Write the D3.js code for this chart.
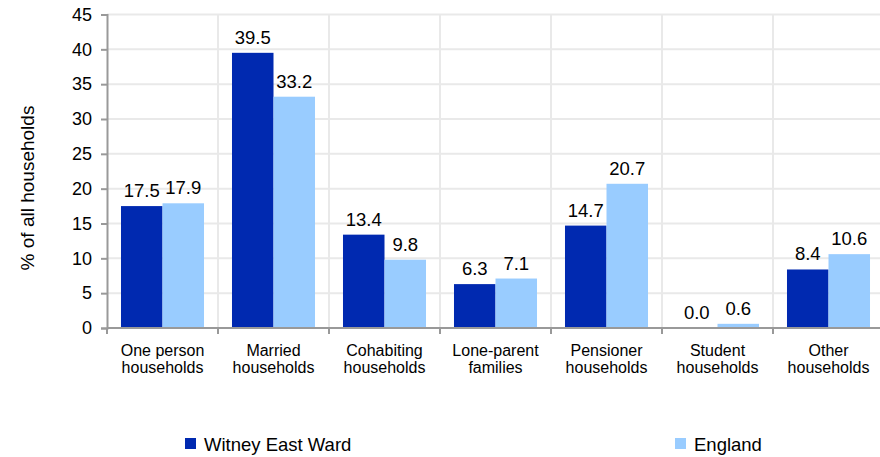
<!DOCTYPE html>
<html><head><meta charset="utf-8">
<script src="https://cdn.jsdelivr.net/npm/d3@7"></script>
<style>body{margin:0;background:#fff}svg{display:block;font-family:"Liberation Sans",Arial,sans-serif}</style>
</head><body>
<script>
const categories = [["One person","households"],["Married","households"],["Cohabiting","households"],["Lone-parent","families"],["Pensioner","households"],["Student","households"],["Other","households"]];
const seriesNames = ["Witney East Ward","England"];
const witney = [17.5,39.5,13.4,6.3,14.7,0.0,8.4];
const england = [17.9,33.2,9.8,7.1,20.7,0.6,10.6];
const yTicks = [0,5,10,15,20,25,30,35,40,45];
const colors = ["#0029b0","#99ccff"];

(function(){
const W=880,H=457;
const svg=d3.select("body").append("svg").attr("width",W).attr("height",H);
const left=107,right=884,pTop=14.5,bottom=328;
const idx=d3.range(categories.length);
const x=d3.scaleBand().domain(idx).range([left,right]).paddingInner(0).paddingOuter(0);
const x1=d3.scaleBand().domain([0,1]).range([0,x.bandwidth()]).paddingInner(0).paddingOuter(0.337);
const y=d3.scaleLinear().domain([0,45]).range([bottom,pTop]);

// grid
svg.append("g").selectAll("line").data(yTicks.filter(d=>d>0)).join("line")
 .attr("x1",left).attr("x2",right).attr("y1",d=>y(d)).attr("y2",d=>y(d))
 .attr("stroke","#e9e9e9").attr("stroke-width",2);
svg.append("g").selectAll("line").data(idx.slice(1)).join("line")
 .attr("x1",d=>x(d)).attr("x2",d=>x(d)).attr("y1",pTop).attr("y2",bottom)
 .attr("stroke","#e9e9e9").attr("stroke-width",2);

// bars
const data=[witney,england];
const g=svg.append("g");
data.forEach((vals,s)=>{
 g.append("g").selectAll("rect").data(idx).join("rect")
  .attr("x",i=>x(i)+x1(s)).attr("width",x1.bandwidth())
  .attr("y",i=>y(vals[i])).attr("height",i=>bottom-y(vals[i]))
  .attr("fill",colors[s]);
 g.append("g").selectAll("text").data(idx).join("text")
  .attr("x",i=>x(i)+x1(s)+x1.bandwidth()/2).attr("y",i=>y(vals[i])-9)
  .attr("text-anchor","middle").attr("font-size",18.5).attr("fill","#000")
  .text(i=>vals[i].toFixed(1));
});

// y axis
const ya=svg.append("g").attr("transform",`translate(${left},0)`)
 .call(d3.axisLeft(y).tickValues(yTicks).tickSize(6).tickPadding(9));
ya.select(".domain").attr("stroke","#999").attr("stroke-width",2);
ya.selectAll(".tick line").attr("stroke","#999").attr("stroke-width",2);
ya.selectAll(".tick text").attr("font-size",18).attr("font-family","Liberation Sans, Arial, sans-serif").attr("fill","#000");

// x axis
svg.append("line").attr("x1",left).attr("x2",right).attr("y1",bottom).attr("y2",bottom).attr("stroke","#999").attr("stroke-width",2);
svg.append("g").selectAll("line").data(idx).join("line")
 .attr("x1",d=>x(d)).attr("x2",d=>x(d))
 .attr("y1",bottom).attr("y2",bottom+6).attr("stroke","#999").attr("stroke-width",2);
const cl=svg.append("g").selectAll("text").data(idx).join("text")
 .attr("x",i=>x(i)+x.bandwidth()/2).attr("y",356).attr("text-anchor","middle").attr("font-size",16).attr("fill","#000");
cl.selectAll("tspan").data(i=>categories[i].map(t=>({t,xx:x(i)+x.bandwidth()/2}))).join("tspan")
 .attr("x",d=>d.xx).attr("dy",(d,k)=>k?17:0).text(d=>d.t);

// y title
svg.append("text").attr("transform","translate(34,188) rotate(-90)").attr("text-anchor","middle")
 .attr("font-size",19).attr("fill","#000").text("% of all households");

// legend
const legX=[185,675];
seriesNames.forEach((n,s)=>{
 svg.append("rect").attr("x",legX[s]).attr("y",438).attr("width",11).attr("height",11).attr("fill",colors[s]);
 svg.append("text").attr("x",legX[s]+19).attr("y",451).attr("font-size",18.5).attr("fill","#000").text(n);
});
})();
</script>
</body></html>
